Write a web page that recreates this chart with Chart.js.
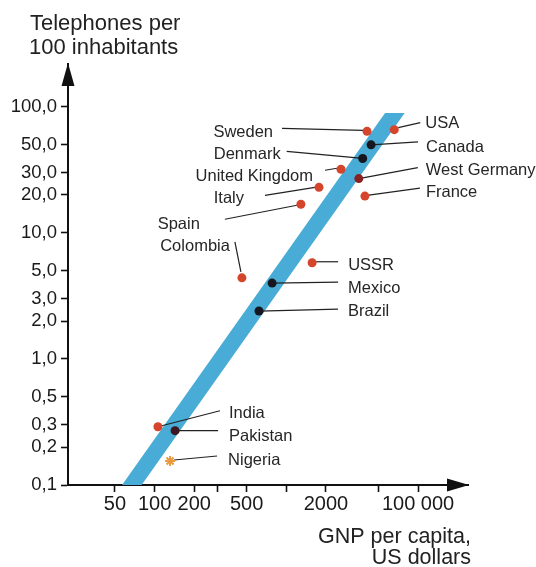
<!DOCTYPE html>
<html>
<head>
<meta charset="utf-8">
<script src="https://cdn.jsdelivr.net/npm/chart.js@4/dist/chart.umd.min.js"></script>
<style>
  html, body { margin: 0; padding: 0; background: #fff; }
  canvas { display: block; }
</style>
</head>
<body>
<canvas id="chart" width="536" height="567"></canvas>
<script>
// Countries, GNP per capita (US$) and telephones per 100 inhabitants
const countries = ['Sweden', 'USA', 'Canada', 'Denmark', 'United Kingdom', 'West Germany', 'France',
    'Italy', 'Spain', 'Colombia', 'USSR', 'Mexico', 'Brazil', 'India', 'Pakistan', 'Nigeria'];
const gnp = [4100, 6600, 4400, 3800, 2600, 3550, 3950, 1770, 1290, 460, 1570, 780, 620, 106, 143, 131];
const phones = [64, 66, 50, 39, 32, 27, 19.6, 23, 16.9, 4.4, 5.8, 4.0, 2.4, 0.29, 0.27, 0.155];
const marker = ['red', 'red', 'black', 'black', 'red', 'darkred', 'red', 'red', 'red', 'red', 'red',
    'black', 'black', 'red', 'maroon', 'orange'];

// Trend band (ends run past the axes, clipped)
const trendGnp = [42, 9460];
const trendPhones = [0.05, 150];

// Axis ticks
const xTicks = [50, 100, 200, 300, 500, 1000, 2000, 5000, 10000];
const xTickLabels = ['50', '100', '200', '', '500', '', '2000', '', '100 000'];
const yTicks = [0.1, 0.2, 0.3, 0.5, 1, 2, 3, 5, 10, 20, 30, 50, 100];
const yTickLabels = ['0,1', '0,2', '0,3', '0,5', '1,0', '2,0', '3,0', '5,0', '10,0', '20,0', '30,0', '50,0', '100,0'];

// Leader line (from/to, px offset from the dot) and label anchor for each country
const callouts = [
    { from: [-85, -3], to: [-4, -1], text: [-94, 1], align: 'right' },   // Sweden
    { from: [4, -2], to: [26, -7], text: [31, -6], align: 'left' },       // USA
    { from: [0, 0], to: [47, -3], text: [55, 3], align: 'left' },         // Canada
    { from: [-76, -7], to: [0, 0], text: [-82, -4], align: 'right' },     // Denmark
    { from: [-16, 1], to: [-4, -1], text: [-28, 7], align: 'right' },     // United Kingdom
    { from: [0, 0], to: [59, -11], text: [67, -8], align: 'left' },       // West Germany
    { from: [4, -1], to: [55, -8], text: [61, -4], align: 'left' },       // France
    { from: [-54, 8], to: [-4, 0], text: [-75, 11], align: 'right' },     // Italy
    { from: [-76, 15], to: [-4, 1], text: [-101, 20], align: 'right' },   // Spain
    { from: [-7, -36], to: [-1, -6], text: [-12, -31], align: 'right' },  // Colombia
    { from: [4, -1], to: [26, -1], text: [36, 3], align: 'left' },        // USSR
    { from: [0, 0], to: [66, -1], text: [76, 5], align: 'left' },         // Mexico
    { from: [0, 0], to: [79, -2], text: [89, 0], align: 'left' },         // Brazil
    { from: [0, 0], to: [62, -16], text: [71, -13], align: 'left' },      // India
    { from: [0, 0], to: [43, 0], text: [54, 6], align: 'left' },          // Pakistan
    { from: [4, -1], to: [47, -5], text: [58, -1], align: 'left' }        // Nigeria
];

const markerColors = { red: '#d5452c', black: '#16161e', darkred: '#8a2222', maroon: '#3c1620', orange: '#e99a3e' };
const FONT = '"Liberation Sans", Arial, Helvetica, sans-serif';

const points = gnp.map((g, i) => ({ x: g, y: phones[i] }));
const trend = trendGnp.map((g, i) => ({ x: g, y: trendPhones[i] }));

const annotate = {
    id: 'annotate',
    afterDatasetDraw(chart, args) {
        // leader lines go over the band but under the dots
        if (args.index !== 1) return;
        const ctx = chart.ctx;
        const dots = chart.getDatasetMeta(0).data;
        ctx.save();
        ctx.strokeStyle = '#222';
        ctx.lineWidth = 1.2;
        callouts.forEach((c, i) => {
            const d = dots[i];
            ctx.beginPath();
            ctx.moveTo(d.x + c.from[0], d.y + c.from[1]);
            ctx.lineTo(d.x + c.to[0], d.y + c.to[1]);
            ctx.stroke();
        });
        ctx.restore();
    },
    afterDraw(chart) {
        const ctx = chart.ctx;
        const area = chart.chartArea;
        const dots = chart.getDatasetMeta(0).data;
        ctx.save();

        // country labels
        ctx.fillStyle = '#262626';
        ctx.font = '16.5px ' + FONT;
        ctx.textBaseline = 'middle';
        callouts.forEach((c, i) => {
            const d = dots[i];
            ctx.textAlign = c.align;
            ctx.fillText(countries[i], d.x + c.text[0], d.y + c.text[1]);
        });

        // arrow heads
        ctx.fillStyle = '#111';
        ctx.beginPath();
        ctx.moveTo(area.left, area.top - 1);
        ctx.lineTo(area.left - 6.5, area.top + 22);
        ctx.lineTo(area.left + 6.5, area.top + 22);
        ctx.closePath();
        ctx.fill();
        ctx.beginPath();
        ctx.moveTo(area.right + 1, area.bottom);
        ctx.lineTo(area.right - 21, area.bottom - 6.5);
        ctx.lineTo(area.right - 21, area.bottom + 6.5);
        ctx.closePath();
        ctx.fill();

        // axis titles
        ctx.fillStyle = '#222';
        ctx.font = '22px ' + FONT;
        ctx.textAlign = 'left';
        ctx.fillText('Telephones per', 30, 24);
        ctx.fillText('100 inhabitants', 29, 48);
        ctx.font = '21.5px ' + FONT;
        ctx.textAlign = 'right';
        ctx.fillText('GNP per capita,', 471, 537);
        ctx.fillText('US dollars', 471, 558);
        ctx.restore();
    }
};

const ctx = document.getElementById('chart').getContext('2d');
new Chart(ctx, {
    type: 'scatter',
    data: {
        datasets: [
            {
                label: 'Countries',
                data: points,
                order: 1,
                pointRadius: marker.map(m => m === 'orange' ? 5 : 4.5),
                pointStyle: marker.map(m => m === 'orange' ? 'star' : 'circle'),
                pointBackgroundColor: marker.map(m => markerColors[m]),
                pointBorderColor: marker.map(m => markerColors[m]),
                pointBorderWidth: marker.map(m => m === 'orange' ? 2 : 0)
            },
            {
                label: 'Trend',
                data: trend,
                order: 2,
                showLine: true,
                borderColor: '#48acd6',
                borderWidth: 16,
                borderCapStyle: 'butt',
                pointRadius: 0,
                clip: { left: 0, right: 0, bottom: 0, top: -49 }
            }
        ]
    },
    options: {
        responsive: false,
        animation: false,
        events: [],
        layout: { padding: { top: 64, right: 68, left: 0, bottom: 0 } },
        plugins: {
            legend: { display: false },
            tooltip: { enabled: false }
        },
        scales: {
            x: {
                type: 'logarithmic',
                min: 22,
                max: 23950,
                afterBuildTicks: scale => { scale.ticks = xTicks.map(v => ({ value: v })); },
                afterFit: scale => { scale.height = 82; },
                ticks: {
                    autoSkip: false,
                    maxRotation: 0,
                    minRotation: 0,
                    padding: 0,
                    color: '#1a1a1a',
                    font: { family: FONT, size: 20 },
                    callback: (value, index) => xTickLabels[index]
                },
                grid: { drawOnChartArea: false, drawTicks: true, tickLength: 7, tickWidth: 1.6, tickColor: '#111' },
                border: { display: true, color: '#111', width: 2 }
            },
            y: {
                type: 'logarithmic',
                min: 0.1,
                max: 219,
                afterBuildTicks: scale => { scale.ticks = yTicks.map(v => ({ value: v })); },
                afterFit: scale => { scale.width = 68; },
                ticks: {
                    autoSkip: false,
                    padding: 4,
                    color: '#1a1a1a',
                    font: { family: FONT, size: 18.5 },
                    callback: (value, index) => yTickLabels[index]
                },
                grid: { drawOnChartArea: false, drawTicks: true, tickLength: 7, tickWidth: 1.6, tickColor: '#111' },
                border: { display: true, color: '#111', width: 2 }
            }
        }
    },
    plugins: [annotate]
});
</script>
</body>
</html>
